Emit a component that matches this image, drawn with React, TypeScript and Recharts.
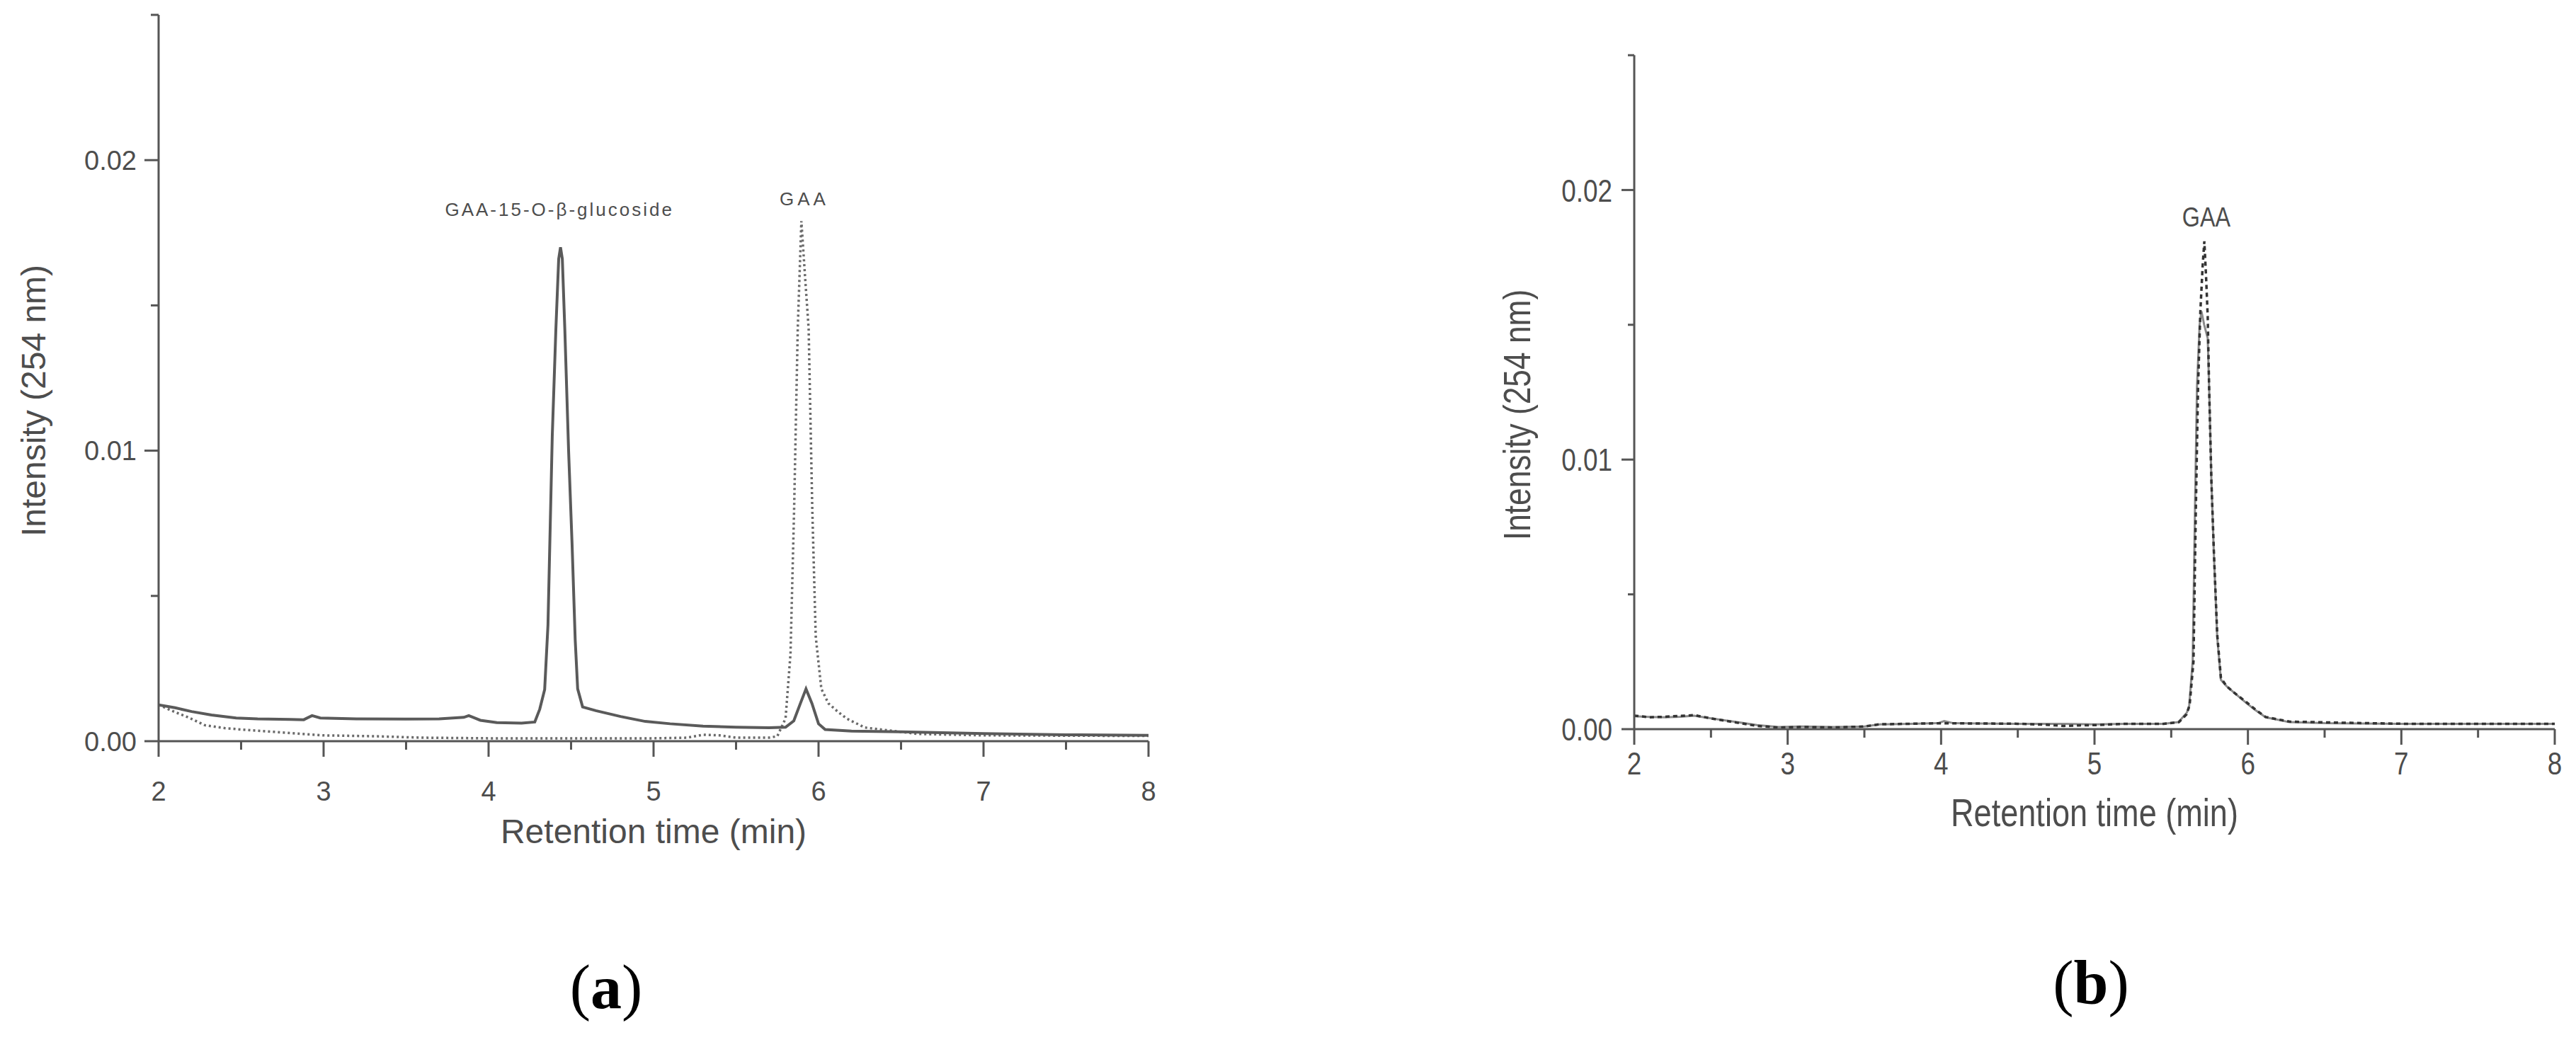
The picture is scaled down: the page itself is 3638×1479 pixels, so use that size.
import React from 'react';
import { LineChart, Line, XAxis, YAxis, ReferenceDot } from 'recharts';

// ---------- Data ----------
// Panel (a): sample (solid) and GAA standard (dotted)
const A_SAMPLE_T = [2.0, 2.1, 2.2, 2.32, 2.47, 2.6, 2.8, 2.88, 2.93, 2.98, 3.2, 3.5, 3.7, 3.85, 3.88, 3.95, 4.05, 4.2, 4.28, 4.31, 4.34, 4.36, 4.386, 4.408, 4.425, 4.436, 4.447, 4.462, 4.485, 4.506, 4.525, 4.54, 4.57, 4.65, 4.8, 4.95, 5.1, 5.3, 5.5, 5.7, 5.8, 5.85, 5.89, 5.924, 5.96, 6.0, 6.04, 6.2, 6.5, 7.0, 7.5, 8.0];
const A_SAMPLE_V = [0.00125, 0.00115, 0.00102, 0.0009, 0.0008, 0.00077, 0.00075, 0.00074, 0.00088, 0.0008, 0.00077, 0.00076, 0.00077, 0.00082, 0.00088, 0.00072, 0.00064, 0.00062, 0.00066, 0.0011, 0.00178, 0.004, 0.0105, 0.0142, 0.0166, 0.0170, 0.0166, 0.0142, 0.01, 0.0068, 0.0035, 0.0018, 0.00118, 0.00105, 0.00085, 0.00068, 0.0006, 0.00052, 0.00048, 0.00046, 0.00048, 0.0007, 0.0013, 0.0018, 0.0013, 0.0006, 0.0004, 0.00035, 0.00032, 0.00026, 0.00022, 0.0002];
const A_STD_T = [2.0, 2.1, 2.18, 2.28, 2.4, 2.57, 2.7, 2.87, 3.0, 3.31, 3.6, 4.0, 4.5, 5.0, 5.2, 5.3, 5.4, 5.5, 5.7, 5.75, 5.8, 5.83, 5.852, 5.874, 5.896, 5.918, 5.94, 5.962, 5.983, 6.017, 6.06, 6.12, 6.17, 6.28, 6.455, 6.6, 7.0, 8.0];
const A_STD_V = [0.00125, 0.001, 0.00082, 0.00055, 0.00045, 0.00037, 0.00032, 0.00025, 0.0002, 0.00017, 0.00012, 0.0001, 0.0001, 0.0001, 0.00012, 0.00022, 0.0002, 0.00012, 0.00012, 0.00017, 0.00078, 0.003, 0.008, 0.0142, 0.0179, 0.016, 0.0142, 0.008, 0.0036, 0.0018, 0.0013, 0.001, 0.00078, 0.00047, 0.00035, 0.00025, 0.0002, 0.00018];

// Panel (b): sample (solid) and GAA standard (dashed)
const B_SAMPLE_T = [2.0, 2.1, 2.2, 2.3, 2.39, 2.5, 2.67, 2.8, 2.94, 3.1, 3.3, 3.5, 3.6, 3.8, 3.98, 4.02, 4.08, 4.5, 4.8, 5.0, 5.2, 5.45, 5.547, 5.6, 5.616, 5.64, 5.655, 5.668, 5.685, 5.697, 5.715, 5.738, 5.747, 5.762, 5.778, 5.8, 5.824, 5.86, 5.9, 5.99, 6.05, 6.116, 6.27, 6.5, 7.0, 8.0];
const B_SAMPLE_V = [0.00048, 0.00045, 0.00044, 0.00046, 0.0005, 0.0004, 0.00026, 0.00015, 0.00008, 0.0001, 0.00008, 0.0001, 0.00018, 0.0002, 0.00022, 0.0003, 0.00022, 0.0002, 0.0002, 0.00018, 0.0002, 0.0002, 0.00026, 0.0006, 0.00079, 0.00254, 0.0082, 0.0127, 0.015, 0.0155, 0.015, 0.0145, 0.0127, 0.0092, 0.0065, 0.0034, 0.00183, 0.0016, 0.0014, 0.00097, 0.0007, 0.00044, 0.00026, 0.00022, 0.0002, 0.0002];
const B_STD_T = [2.0, 2.1, 2.2, 2.39, 2.5, 2.67, 2.8, 2.94, 3.1, 3.3, 3.5, 3.6, 4.0, 4.5, 4.7, 4.8, 4.9, 5.0, 5.2, 5.45, 5.55, 5.6, 5.62, 5.645, 5.66, 5.675, 5.69, 5.705, 5.716, 5.727, 5.738, 5.747, 5.762, 5.778, 5.8, 5.824, 5.86, 5.9, 5.99, 6.05, 6.116, 6.27, 6.6, 7.0, 8.0];
const B_STD_V = [0.0005, 0.00044, 0.00046, 0.00052, 0.0004, 0.00024, 0.00012, 0.00006, 0.00008, 0.00006, 0.0001, 0.00018, 0.00022, 0.0002, 0.00016, 0.00012, 0.00014, 0.00015, 0.0002, 0.0002, 0.00026, 0.00055, 0.0009, 0.0025, 0.008, 0.0127, 0.0155, 0.0172, 0.0181, 0.0168, 0.0153, 0.0127, 0.0092, 0.0066, 0.0035, 0.0019, 0.0016, 0.0014, 0.001, 0.00072, 0.00045, 0.00028, 0.00024, 0.0002, 0.0002];

const X_TICKS = [2, 2.5, 3, 3.5, 4, 4.5, 5, 5.5, 6, 6.5, 7, 7.5, 8];
const Y_TICKS = [0, 0.005, 0.01, 0.015, 0.02, 0.025];
const X_DOMAIN = [2, 8];
const Y_DOMAIN = [0, 0.025];

const X_TITLE = 'Retention time (min)';
const Y_TITLE = 'Intensity (254 nm)';
const A_PEAK1_LABEL = 'GAA-15-O-β-glucoside';
const A_PEAK2_LABEL = 'GAA';
const B_PEAK_LABEL = 'GAA';

const zip = (ts: number[], vs: number[]) => ts.map((t, i) => ({ t, v: vs[i] }));

const AXIS_COLOR = '#555';
const TEXT_COLOR = '#4d4d4d';
const SANS = "'Liberation Sans', Arial, sans-serif";

type TickCfg = { major: number; minor: number; gap: number; fontSize: number; sx: number; baseline?: number };

const isMajorY = (v: number) => Math.abs(v / 0.01 - Math.round(v / 0.01)) < 1e-6;
const isMajorX = (v: number) => Math.abs(v - Math.round(v)) < 1e-6;

// Text drawn at (x, y) and horizontally condensed by sx (1 = normal)
const SText = (p: { x: number; y: number; sx: number; fontSize: number; anchor: string; dy?: string; spacing?: number; rotate?: number; children: React.ReactNode }) => (
  <g transform={`translate(${p.x},${p.y})${p.rotate ? ` rotate(${p.rotate})` : ''} scale(${p.sx},1)`}>
    <text x={0} y={0} dy={p.dy || '0'} textAnchor={p.anchor as any} fontSize={p.fontSize} fontFamily={SANS} fill={TEXT_COLOR} letterSpacing={p.spacing || 0}>
      {p.children}
    </text>
  </g>
);

const makeYTick = (cfg: TickCfg) => (props: any) => {
  const { x, y, payload } = props;
  const v = payload.value;
  const major = isMajorY(v) && v < 0.0249;
  const len = major ? cfg.major : cfg.minor;
  return (
    <g>
      <line x1={x} x2={x - len} y1={y} y2={y} stroke={AXIS_COLOR} strokeWidth={3} />
      {major && (
        <SText x={x - cfg.gap} y={y} dy="0.36em" anchor="end" fontSize={cfg.fontSize} sx={cfg.sx}>
          {v.toFixed(2)}
        </SText>
      )}
    </g>
  );
};

const makeXTick = (cfg: TickCfg) => (props: any) => {
  const { x, y, payload } = props;
  const v = payload.value;
  const major = isMajorX(v);
  const len = major ? cfg.major : cfg.minor;
  return (
    <g>
      <line x1={x} x2={x} y1={y} y2={y + len} stroke={AXIS_COLOR} strokeWidth={3} />
      {major && (
        <SText x={x} y={y + (cfg.baseline || 80)} anchor="middle" fontSize={cfg.fontSize} sx={cfg.sx}>
          {String(v)}
        </SText>
      )}
    </g>
  );
};

const xTitle = (dy: number, fontSize: number, sx: number) => (props: any) => {
  const vb = props.viewBox;
  return (
    <SText x={vb.x + vb.width / 2} y={vb.y + dy} anchor="middle" fontSize={fontSize} sx={sx}>
      {X_TITLE}
    </SText>
  );
};

const yTitle = (dx: number, shift: number, fontSize: number, sx: number) => (props: any) => {
  const vb = props.viewBox;
  const cx = vb.x + dx;
  const cy = vb.y + vb.height / 2 + shift;
  return (
    <SText x={cx} y={cy} rotate={-90} dy="0.35em" anchor="middle" fontSize={fontSize} sx={sx}>
      {Y_TITLE}
    </SText>
  );
};

const annot = (text: string, fontSize: number, sx: number, spacing: number) => (props: any) => {
  const vb = props.viewBox;
  const cx = vb.x + (vb.width || 0) / 2;
  const cy = vb.y + (vb.height || 0) / 2;
  return (
    <SText x={cx} y={cy} dy="0.36em" anchor="middle" fontSize={fontSize} sx={sx} spacing={spacing}>
      {text}
    </SText>
  );
};

const ChartA = () => {
  const tickY: TickCfg = { major: 20, minor: 11, gap: 31, fontSize: 38, sx: 1 };
  const tickX: TickCfg = { major: 22, minor: 12, gap: 0, fontSize: 38, sx: 1, baseline: 84 };
  return (
    <LineChart width={1700} height={1250} margin={{ top: 21, right: 78, bottom: 43, left: 0 }}>
      <XAxis
        type="number"
        dataKey="t"
        domain={X_DOMAIN}
        ticks={X_TICKS}
        interval={0}
        allowDataOverflow
        height={160}
        tickSize={0}
        tickMargin={0}
        tickLine={false}
        axisLine={{ stroke: AXIS_COLOR, strokeWidth: 3 }}
        tick={makeXTick(tickX)}
        label={{ content: xTitle(144, 48, 1) }}
      />
      <YAxis
        type="number"
        domain={Y_DOMAIN}
        ticks={Y_TICKS}
        interval={0}
        allowDataOverflow
        width={224}
        tickSize={0}
        tickMargin={0}
        tickLine={false}
        axisLine={{ stroke: AXIS_COLOR, strokeWidth: 3 }}
        tick={makeYTick(tickY)}
        label={{ content: yTitle(47, 32, 48, 1) }}
      />
      <Line data={zip(A_STD_T, A_STD_V)} dataKey="v" type="linear" dot={false} stroke="#6a6a6a" strokeWidth={3.5} strokeDasharray="3 4" isAnimationActive={false} />
      <Line data={zip(A_SAMPLE_T, A_SAMPLE_V)} dataKey="v" type="linear" dot={false} stroke="#5a5a5a" strokeWidth={4} isAnimationActive={false} />
      <ReferenceDot x={4.43} y={0.01832} r={1} fill="none" stroke="none" ifOverflow="visible" label={{ content: annot(A_PEAK1_LABEL, 26, 1, 3) }} />
      <ReferenceDot x={5.914} y={0.01868} r={1} fill="none" stroke="none" ifOverflow="visible" label={{ content: annot(A_PEAK2_LABEL, 26, 1, 5) }} />
    </LineChart>
  );
};

const ChartB = () => {
  const tickY: TickCfg = { major: 18, minor: 9, gap: 31, fontSize: 45, sx: 0.82 };
  const tickX: TickCfg = { major: 22, minor: 12, gap: 0, fontSize: 45, sx: 0.82, baseline: 64 };
  return (
    <LineChart width={1738} height={1250} margin={{ top: 78, right: 30, bottom: 70, left: 0 }}>
      <XAxis
        type="number"
        dataKey="t"
        domain={X_DOMAIN}
        ticks={X_TICKS}
        interval={0}
        allowDataOverflow
        height={150}
        tickSize={0}
        tickMargin={0}
        tickLine={false}
        axisLine={{ stroke: AXIS_COLOR, strokeWidth: 3 }}
        tick={makeXTick(tickX)}
        label={{ content: xTitle(137, 55, 0.82) }}
      />
      <YAxis
        type="number"
        domain={Y_DOMAIN}
        ticks={Y_TICKS}
        interval={0}
        allowDataOverflow
        width={408}
        tickSize={0}
        tickMargin={0}
        tickLine={false}
        axisLine={{ stroke: AXIS_COLOR, strokeWidth: 3 }}
        tick={makeYTick(tickY)}
        label={{ content: yTitle(242, 32, 54, 0.82) }}
      />
      <Line data={zip(B_SAMPLE_T, B_SAMPLE_V)} dataKey="v" type="linear" dot={false} stroke="#8a8a8a" strokeWidth={3} isAnimationActive={false} />
      <Line data={zip(B_STD_T, B_STD_V)} dataKey="v" type="linear" dot={false} stroke="#333" strokeWidth={3.5} strokeDasharray="6 5" isAnimationActive={false} />
      <ReferenceDot x={5.729} y={0.019} r={1} fill="none" stroke="none" ifOverflow="visible" label={{ content: annot(B_PEAK_LABEL, 38, 0.85, 0) }} />
    </LineChart>
  );
};

const panelLabel: React.CSSProperties = {
  position: 'absolute',
  width: 300,
  textAlign: 'center',
  fontFamily: "'Liberation Serif', 'Times New Roman', serif",
  fontSize: 88,
  lineHeight: '88px',
  color: '#000',
};

export default function App() {
  return (
    <div style={{ position: 'absolute', left: 0, top: 0, width: 3638, height: 1479, background: '#fff', overflow: 'hidden' }}>
      <div style={{ position: 'absolute', left: 0, top: 0 }}>
        <ChartA />
      </div>
      <div style={{ position: 'absolute', left: 1900, top: 0 }}>
        <ChartB />
      </div>
      <div style={{ ...panelLabel, left: 856 - 150, top: 1351 }}>
        (<b>a</b>)
      </div>
      <div style={{ ...panelLabel, left: 2953 - 150, top: 1345 }}>
        (<b>b</b>)
      </div>
    </div>
  );
}
